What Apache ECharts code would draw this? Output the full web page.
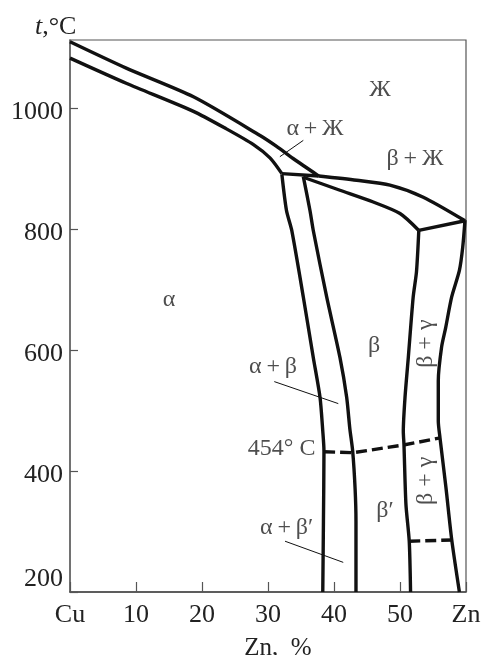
<!DOCTYPE html>
<html><head><meta charset="utf-8">
<script src="https://cdn.jsdelivr.net/npm/echarts@6/dist/echarts.min.js"></script>
<style>html,body{margin:0;padding:0;background:#fff}#c{width:481px;height:655px}</style>
</head><body><div id="c"></div>
<script>
// Axis ticks
const xTicks = [0, 10, 20, 30, 40, 50, 60];
const xTickLabels = ['Cu', '10', '20', '30', '40', '50', 'Zn'];
const yTicks = [200, 400, 600, 800, 1000];

// Phase boundaries: [Zn %, t °C]
const liquidusAlpha = [[0,1110],[8.6,1066],[18.7,1019],[28.8,955],[31.3,937],[33.8,917],[37.7,888]];
const solidusAlpha  = [[0,1083],[8.6,1041],[18.7,995],[23.7,966],[27.8,940],[30.3,918],[32.1,892]];
const peritectic    = [[32.1,892],[37.7,888]];
const alphaSolvus   = [[32.1,891],[32.8,831],[33.6,798],[35.35,688],[36.86,588],[37.88,522],[38.3,466],[38.48,433],[38.4,317],[38.3,200]];
const betaLeft      = [[35.35,887],[36.36,831],[36.86,798],[38.89,688],[40.9,588],[41.92,522],[42.4,470],[42.83,433],[43.2,370],[43.33,317],[43.33,200]];
const betaSolidus   = [[35.35,886],[40.9,864.5],[45.95,845],[50,826],[52.85,798]];
const betaLiquidus  = [[37.7,888],[43.44,881],[48.48,873],[53.53,853],[59.85,814]];
const gammaTop      = [[52.85,798],[59.85,814]];
const betaRight     = [[52.85,798],[52.5,730],[52.0,688],[51.26,588],[50.76,522],[50.5,466],[50.6,444],[50.9,345],[51.4,284],[51.6,200]];
const gammaRight    = [[59.85,815],[59.5,770],[59.0,732],[57.83,688],[56.9,636],[56.3,605],[55.8,549],[55.8,483],[56.06,455],[56.97,372],[57.83,287],[59,200]];
const orderLine     = [[38.5,432],[42.9,430.5],[50.5,443],[56.1,455]];
const lowerDash     = [[51.4,284],[57.9,286]];
const leaderAlphaL  = [[31.8,920],[35.35,947]];
const leaderAB      = [[30.95,548],[40.65,511.6]];
const leaderABp     = [[32.58,284],[41.4,249]];

// Region labels: [x, y, text]
const flatLabels = [
  [46.97, 1030, 'Ж'],
  [37.12, 967, 'α\u2009+\u2009Ж'],
  [52.27, 916, 'β\u2009+\u2009Ж'],
  [15.0, 683, 'α'],
  [46.06, 607, 'β'],
  [30.76, 573, 'α\u2009+\u2009β'],
  [32.07, 436.5, '454° C'],
  [47.73, 334, 'β′'],
  [32.83, 306, 'α\u2009+\u2009β′']
];
const rotLabels = [
  [53.94, 610.7, 'β + γ'],
  [53.94, 384, 'β + γ']
];

const FONT = 'Liberation Serif';
const INK = '#111';

function lineSeries(data, opts) {
  opts = opts || {};
  return {
    type: 'line', data: data, showSymbol: false, symbol: 'none', silent: true,
    animation: false, smooth: opts.smooth === undefined ? 0.25 : opts.smooth,
    lineStyle: { color: INK, width: opts.width || 3.4, type: opts.dash || 'solid', cap: 'butt', join: 'round' },
    z: opts.z || 3
  };
}

const chart = echarts.init(document.getElementById('c'), null, { renderer: 'canvas' });
const series = [
  lineSeries(liquidusAlpha), lineSeries(solidusAlpha), lineSeries(peritectic, { smooth: false }),
  lineSeries(alphaSolvus), lineSeries(betaLeft), lineSeries(betaSolidus),
  lineSeries(betaLiquidus), lineSeries(gammaTop, { smooth: false }), lineSeries(betaRight),
  lineSeries(gammaRight),
  lineSeries(orderLine, { dash: [11, 5], smooth: false }), lineSeries(lowerDash, { dash: [11, 5], smooth: false }),
  lineSeries(leaderAlphaL, { width: 1, smooth: false }), lineSeries(leaderAB, { width: 1, smooth: false }), lineSeries(leaderABp, { width: 1, smooth: false }),
  {
    type: 'scatter', data: flatLabels, symbolSize: 1, silent: true, animation: false,
    itemStyle: { color: 'rgba(0,0,0,0)' },
    label: { show: true, position: 'inside', formatter: p => p.data[2],
      fontFamily: FONT, fontSize: 24, color: '#222' },
    z: 5
  },
  {
    type: 'scatter', data: rotLabels, symbolSize: 1, silent: true, animation: false,
    itemStyle: { color: 'rgba(0,0,0,0)' },
    label: { show: true, position: 'inside', rotate: 90, formatter: p => p.data[2],
      fontFamily: FONT, fontSize: 24, color: '#222' },
    z: 5
  }
];

chart.setOption({
  backgroundColor: '#fff',
  animation: false,
  title: {
    text: '{i|t},°C', left: 35, top: 14, padding: 0,
    textStyle: { fontFamily: FONT, fontSize: 26, fontWeight: 'normal', color: '#222',
      rich: { i: { fontFamily: FONT, fontSize: 26, fontStyle: 'italic', color: '#222' } } }
  },
  grid: { left: 70, right: 15, top: 40, bottom: 63, containLabel: false, outerBoundsMode: 'none',
    show: true, borderColor: '#555', borderWidth: 1.2, backgroundColor: 'transparent' },
  xAxis: {
    type: 'value', min: 0, max: 60, interval: 10,
    name: 'Zn,  %', nameLocation: 'middle', nameGap: 44,
    nameTextStyle: { fontFamily: FONT, fontSize: 25, color: '#222', padding: [0, 0, 0, 20] },
    axisLine: { show: true, lineStyle: { color: '#444', width: 1.5 } },
    axisTick: { show: true, inside: true, length: 10, lineStyle: { color: '#555', width: 1.2 } },
    axisLabel: { margin: 10, fontFamily: FONT, fontSize: 26, color: '#222',
      formatter: v => { const i = xTicks.indexOf(v); return i >= 0 ? xTickLabels[i] : ''; } },
    splitLine: { show: false }
  },
  yAxis: {
    type: 'value', min: 200, max: 1113, interval: 200,
    axisLine: { show: true, lineStyle: { color: '#666', width: 1.5 } },
    axisTick: { show: true, inside: true, length: 8, lineStyle: { color: '#555', width: 1.2 } },
    axisLabel: { margin: 7, fontFamily: FONT, fontSize: 26, color: '#222', showMaxLabel: false,
      padding: [8, 0, 0, 0],
      formatter: v => yTicks.indexOf(v) < 0 ? '' : (v === 200 ? '{lift|200}' : String(v)),
      rich: { lift: { fontFamily: FONT, fontSize: 26, color: '#222', padding: [0, 0, 34, 0] } } },
    splitLine: { show: false }
  },
  series: series
});
</script>
</body></html>
